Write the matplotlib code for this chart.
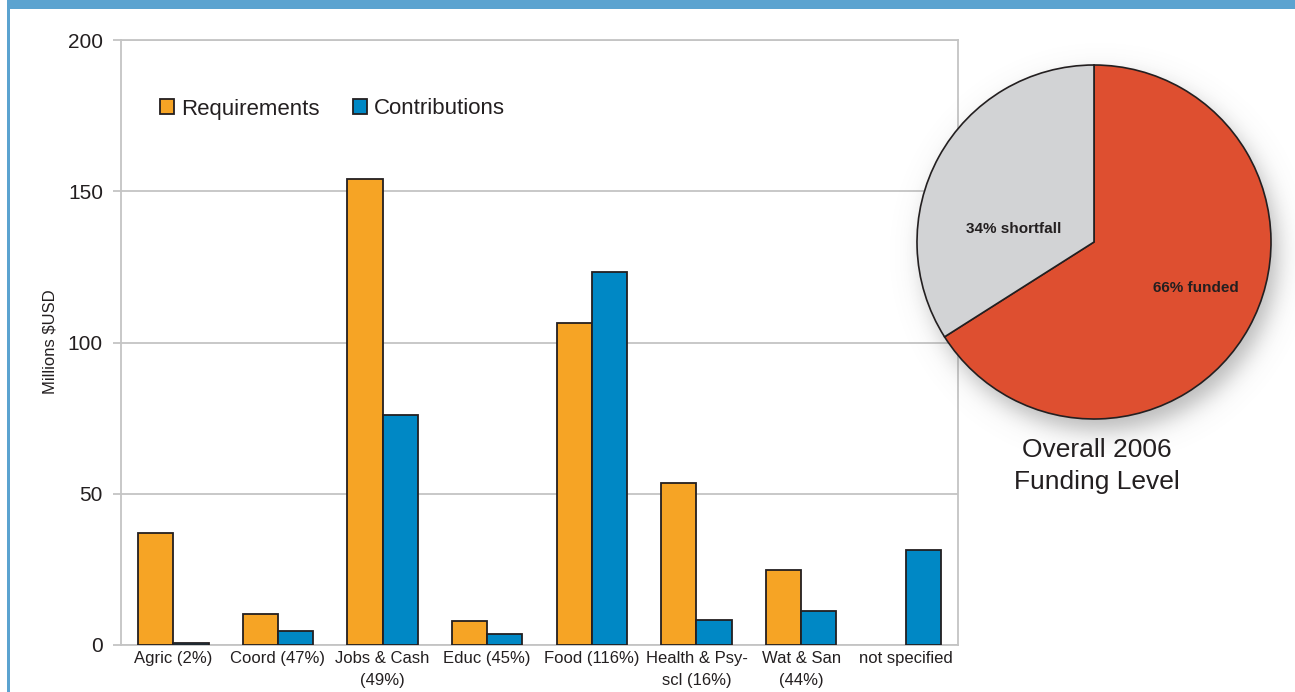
import numpy as np
import matplotlib
matplotlib.use("Agg")
import matplotlib.pyplot as plt
from matplotlib.patches import Rectangle

plt.rcParams['font.family'] = ['Liberation Sans', 'DejaVu Sans']

# --- data -------------------------------------------------------------
sectors = ["Agric (2%)", "Coord (47%)", "Jobs & Cash\n(49%)", "Educ (45%)",
           "Food (116%)", "Health & Psy-\nscl (16%)", "Wat & San\n(44%)",
           "not specified"]
requirements = [36.9, 10.1, 154.0, 7.9, 106.4, 53.6, 24.8, np.nan]
contributions = [0.7, 4.6, 76.0, 3.6, 123.3, 8.3, 11.2, 31.4]
y_ticks = [0, 50, 100, 150, 200]

pie_labels = ["66% funded", "34% shortfall"]
pie_shares = [66, 34]
pie_title = "Overall 2006\nFunding Level"

# --- style ------------------------------------------------------------
ORANGE = "#F6A425"
BLUE = "#0088C5"
EDGE = "#231F20"
GRID = "#C4C4C4"
TEXT = "#231F20"
FRAME_BLUE = "#5BA3D0"
RED = "#DE4F30"
LIGHT_GREY = "#D2D3D5"

W, H = 1295, 692
fig = plt.figure(figsize=(W / 100, H / 100), dpi=100)
fig.patch.set_facecolor("white")


def fx(px):
    return px / W


def fy(py):
    return 1 - py / H


# page frame: top band and left rule
fig.add_artist(Rectangle((fx(7), fy(9)), 1 - fx(7), fy(0) - fy(9),
                         transform=fig.transFigure, color=FRAME_BLUE, lw=0))
fig.add_artist(Rectangle((fx(7), 0), fx(3), 1,
                         transform=fig.transFigure, color=FRAME_BLUE, lw=0))

# --- bar chart --------------------------------------------------------
ax = fig.add_axes([fx(121), fy(645), fx(958) - fx(121), fy(40) - fy(645)])
x = np.arange(len(sectors))
bw = 0.337
ax.bar(x - bw / 2, requirements, bw, color=ORANGE, edgecolor=EDGE,
       linewidth=1.3, label="Requirements", zorder=3)
ax.bar(x + bw / 2, contributions, bw, color=BLUE, edgecolor=EDGE,
       linewidth=1.3, label="Contributions", zorder=3)

ax.set_xlim(-0.5, len(sectors) - 0.5)
ax.set_ylim(0, 200)
ax.set_yticks(y_ticks)
ax.yaxis.grid(True, color=GRID, linewidth=1.3, zorder=0)
ax.set_axisbelow(True)
for s in ax.spines.values():
    s.set_color(GRID)
    s.set_linewidth(1.3)
ax.tick_params(axis="y", length=6, color=GRID, width=1.3, pad=7,
               labelsize=15, labelcolor=TEXT)
ax.set_xticks(x)
ax.set_xticklabels(sectors, linespacing=1.6)
ax.tick_params(axis="x", length=0, pad=4, labelsize=12, labelcolor=TEXT)

fig.text(fx(50), fy(342), "Millions $USD", rotation=90, ha="center",
         va="center", fontsize=12, color=TEXT)

leg = ax.legend(loc="center left", bbox_to_anchor=(fx(160), fy(109)),
                bbox_transform=fig.transFigure, ncol=2, frameon=False,
                fontsize=16, handlelength=0.65, handleheight=0.65,
                handletextpad=0.3, columnspacing=1.5, borderpad=0,
                borderaxespad=0)
for t in leg.get_texts():
    t.set_color(TEXT)

# --- pie chart --------------------------------------------------------
cx, cy, r = 1094, 242, 177
span = 1.2
side = 2 * span * r
pax = fig.add_axes([fx(cx - side / 2), fy(cy + side / 2), side / W, side / H])
pax.set_xlim(-span, span)
pax.set_ylim(-span, span)
pax.axis("off")

# soft drop shadow beneath the disc
g = np.linspace(-span, span, 500)
gx, gy = np.meshgrid(g, g)
d = np.hypot(gx - 0.035, gy + 0.07)
alpha = 0.5 / (1 + np.exp((d - 1.0) / 0.04))
shadow = np.zeros(gx.shape + (4,))
shadow[..., :3] = 0.45
shadow[..., 3] = alpha
pax.imshow(shadow, extent=(-span, span, -span, span), origin="lower",
           zorder=0, interpolation="bilinear")

wedges, _ = pax.pie(pie_shares, colors=[RED, LIGHT_GREY], startangle=90,
                    counterclock=False, radius=1.0,
                    wedgeprops=dict(edgecolor=EDGE, linewidth=1.2))
for w in wedges:
    w.set_zorder(2)
pax.set_xlim(-span, span)
pax.set_ylim(-span, span)

pax.text((1196 - cx) / r, (cy - 288) / r, pie_labels[0], ha="center",
         va="center", fontsize=11, fontweight="bold", color=TEXT, zorder=4)
pax.text((1014 - cx) / r, (cy - 229) / r, pie_labels[1], ha="center",
         va="center", fontsize=11, fontweight="bold", color=TEXT, zorder=4)

fig.text(fx(1097), fy(466), pie_title, ha="center", va="center",
         fontsize=19, linespacing=1.42, color=TEXT)

fig.savefig("out.png", dpi=100, facecolor="white")
